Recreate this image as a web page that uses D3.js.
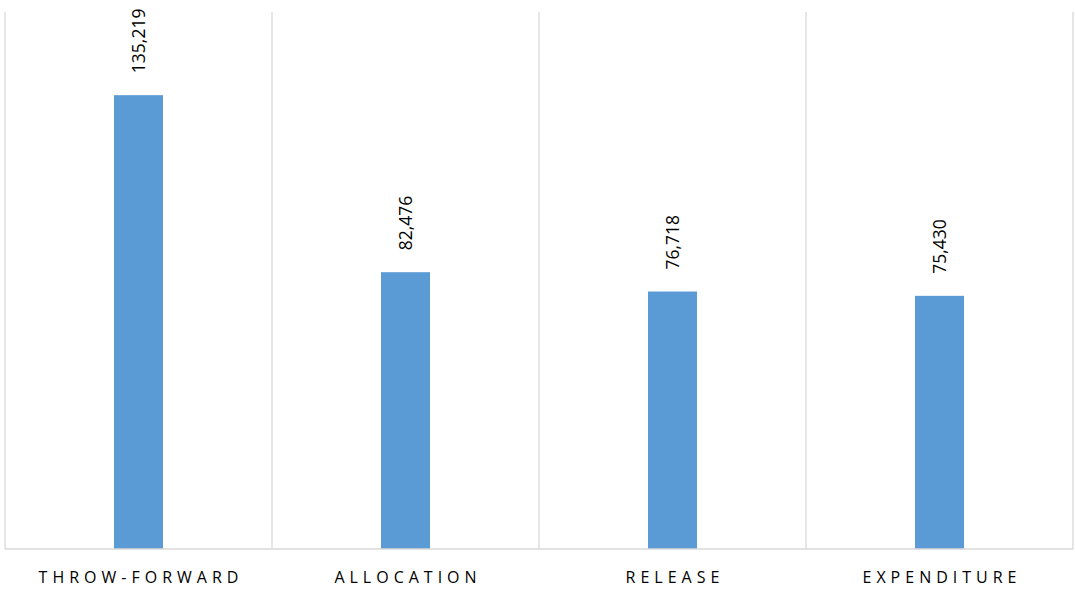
<!DOCTYPE html>
<html><head><meta charset="utf-8">
<script src="https://cdn.jsdelivr.net/npm/d3@7"></script>
<style>body{margin:0;background:#fff}svg{display:block}</style>
</head><body>
<svg id="c" width="1075" height="589"></svg>
<script>
const categories = ["THROW-FORWARD", "ALLOCATION", "RELEASE", "EXPENDITURE"];
const values = [135219, 82476, 76718, 75430];
const yMax = 160000;

const svg = d3.select("#c");
const m = {left: 5, right: 1073, top: 12, bottom: 549};
const x = d3.scaleBand().domain(categories).range([m.left, m.right]).paddingInner(0).paddingOuter(0);
const y = d3.scaleLinear().domain([0, yMax]).range([m.bottom, m.top]);
const fmt = d3.format(",");

// vertical gridlines at band boundaries
const bounds = categories.map(c => x(c)).concat([m.right]);
svg.selectAll("line.grid").data(bounds).enter().append("line")
  .attr("x1", d => d).attr("x2", d => d)
  .attr("y1", m.top).attr("y2", m.bottom)
  .attr("stroke", "#d9d9d9").attr("stroke-width", 1.3);

// bars
const bw = 49;
svg.selectAll("rect.bar").data(values).enter().append("rect")
  .attr("x", (d, i) => x(categories[i]) + x.bandwidth() / 2 - bw / 2)
  .attr("width", bw)
  .attr("y", d => y(d))
  .attr("height", d => y(0) - y(d))
  .attr("fill", "#5b9bd5");

// bottom axis line
svg.append("line").attr("x1", m.left).attr("x2", m.right)
  .attr("y1", m.bottom).attr("y2", m.bottom)
  .attr("stroke", "#d9d9d9").attr("stroke-width", 1.3);

// value labels (rotated)
svg.selectAll("text.val").data(values).enter().append("text")
  .attr("transform", (d, i) => `translate(${x(categories[i]) + x.bandwidth() / 2 + 6.5},${y(d) - 22}) rotate(-90)`)
  .attr("text-anchor", "start")
  .attr("font-family", "Open Sans, Liberation Sans, sans-serif")
  .attr("font-size", 17.5)
  .attr("fill", "#000")
  .text(d => fmt(d));

// category labels
svg.selectAll("text.cat").data(categories).enter().append("text")
  .attr("x", d => x(d) + x.bandwidth() / 2 + 2.5)
  .attr("y", 583)
  .attr("text-anchor", "middle")
  .attr("font-family", "Open Sans, Liberation Sans, sans-serif")
  .attr("font-size", 16)
  .attr("letter-spacing", "5px")
  .attr("fill", "#000")
  .text(d => d);
</script>
</body></html>
